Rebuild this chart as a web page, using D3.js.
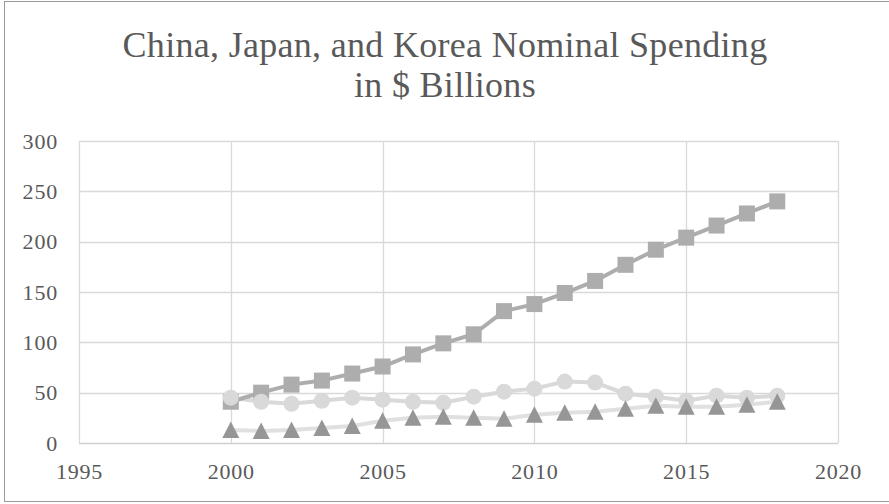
<!DOCTYPE html>
<html>
<head>
<meta charset="utf-8">
<script src="https://cdn.jsdelivr.net/npm/d3@7"></script>
<style>
  body { margin: 0; background: #fff; }
  text { font-family: "Liberation Serif", "Times New Roman", serif; fill: #595959; }
</style>
</head>
<body>
<div id="chart"></div>
<script>
var years = [2000, 2001, 2002, 2003, 2004, 2005, 2006, 2007, 2008, 2009,
             2010, 2011, 2012, 2013, 2014, 2015, 2016, 2017, 2018]
// square markers
var chinaValues = [41, 50, 58, 62, 69, 76, 88, 99, 108, 131,
                   138, 149, 161, 177, 192, 204, 216, 228, 240]
// circle markers
var japanValues = [45, 41, 39, 42, 45, 43, 41, 40, 46, 51,
                   54, 61, 60, 49, 46, 42, 47, 45, 47]
// triangle markers
var koreaValues = [13, 12, 13, 15, 17, 22, 25, 26, 25, 24,
                   28, 30, 31, 34, 37, 36, 36, 38, 41]
var xTicks = [1995, 2000, 2005, 2010, 2015, 2020]
var yTicks = [0, 50, 100, 150, 200, 250, 300]
var titleLines = ['China, Japan, and Korea Nominal Spending', 'in $ Billions']

var width = 889, height = 504

var svg = d3.select('#chart').append('svg')
  .attr('width', width)
  .attr('height', height)

// outer frame (right side runs off the picture)
svg.append('rect')
  .attr('x', 4.5).attr('y', 1.5)
  .attr('width', 890).attr('height', 500)
  .attr('fill', '#fff')
  .attr('stroke', '#9a9a9a')

var x = d3.scaleLinear().domain([1995, 2020]).range([79, 838])
var y = d3.scaleLinear().domain([0, 300]).range([443, 141])

// title
svg.selectAll('.title')
  .data(titleLines)
  .enter().append('text')
  .attr('class', 'title')
  .attr('x', 445)
  .attr('y', function(d, i) { return 57 + i * 40 })
  .attr('text-anchor', 'middle')
  .style('font-size', '36px')
  .style('letter-spacing', '0.3px')
  .text(function(d) { return d })

// gridlines
var grid = svg.append('g')
grid.selectAll('.hgrid')
  .data(yTicks)
  .enter().append('line')
  .attr('x1', x(1995)).attr('x2', x(2020))
  .attr('y1', function(d) { return Math.round(y(d)) + 0.5 })
  .attr('y2', function(d) { return Math.round(y(d)) + 0.5 })
  .attr('stroke', function(d) { return d === 0 ? '#d0d0d0' : '#d9d9d9' })
  .attr('stroke-width', 1.3)
grid.selectAll('.vgrid')
  .data(xTicks)
  .enter().append('line')
  .attr('y1', y(0)).attr('y2', y(300))
  .attr('x1', function(d) { return Math.round(x(d)) + 0.5 })
  .attr('x2', function(d) { return Math.round(x(d)) + 0.5 })
  .attr('stroke', '#d9d9d9')
  .attr('stroke-width', 1.3)

// axes
var yAxis = svg.append('g')
  .attr('transform', 'translate(' + (x(1995) - 21) + ',0)')
  .call(d3.axisLeft(y).tickValues(yTicks).tickSize(0).tickPadding(0))
yAxis.select('.domain').remove()
yAxis.selectAll('text')
  .style('font-size', '22px')
  .style('letter-spacing', '0.8px')
  .style('font-family', '"Liberation Serif", serif')
  .attr('fill', '#595959')

var xAxis = svg.append('g')
  .attr('transform', 'translate(0,' + (y(0) + 20) + ')')
  .call(d3.axisBottom(x).tickValues(xTicks).tickFormat(d3.format('d')).tickSize(0).tickPadding(0))
xAxis.select('.domain').remove()
xAxis.selectAll('text')
  .style('font-size', '22px')
  .style('letter-spacing', '0.8px')
  .style('font-family', '"Liberation Serif", serif')
  .attr('fill', '#595959')

function makeLine(values) {
  return d3.line()
    .x(function(d, i) { return x(years[i]) })
    .y(function(d) { return y(d) })(values)
}

// korea (triangles) - drawn first
svg.append('path')
  .attr('d', makeLine(koreaValues))
  .attr('fill', 'none')
  .attr('stroke', '#e0e0e0')
  .attr('stroke-width', 4)

// japan line
svg.append('path')
  .attr('d', makeLine(japanValues))
  .attr('fill', 'none')
  .attr('stroke', '#d9d9d9')
  .attr('stroke-width', 4)

// china line
svg.append('path')
  .attr('d', makeLine(chinaValues))
  .attr('fill', 'none')
  .attr('stroke', '#adadad')
  .attr('stroke-width', 4)

svg.selectAll('.sq')
  .data(chinaValues)
  .enter().append('rect')
  .attr('x', function(d, i) { return x(years[i]) - 8 })
  .attr('y', function(d) { return y(d) - 8 })
  .attr('width', 16).attr('height', 16)
  .attr('fill', '#adadad')

svg.selectAll('.circ')
  .data(japanValues)
  .enter().append('circle')
  .attr('cx', function(d, i) { return x(years[i]) })
  .attr('cy', function(d) { return y(d) })
  .attr('r', 8)
  .attr('fill', '#d9d9d9')

svg.selectAll('.tri')
  .data(koreaValues)
  .enter().append('path')
  .attr('d', 'M0,-8.5L8.5,8L-8.5,8Z')
  .attr('transform', function(d, i) { return 'translate(' + x(years[i]) + ',' + y(d) + ')' })
  .attr('fill', '#969696')
</script>
</body>
</html>
